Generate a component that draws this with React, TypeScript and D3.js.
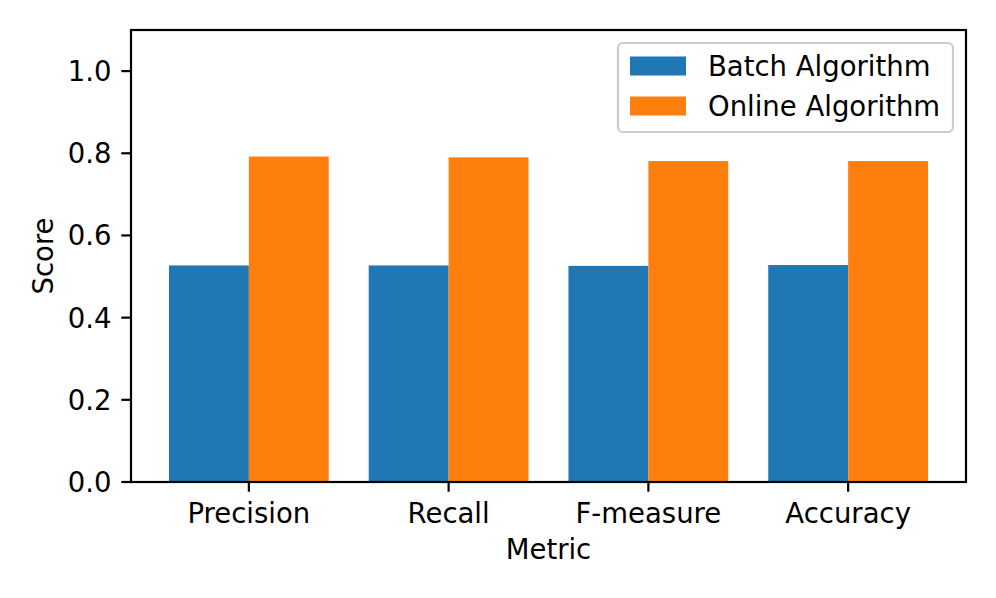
//@ts-nocheck
import { useEffect, useRef } from 'react';
import * as d3 from 'd3';

// data
const metrics = ['Precision', 'Recall', 'F-measure', 'Accuracy'];
const batchScores = [0.527, 0.527, 0.526, 0.528];
const onlineScores = [0.792, 0.790, 0.781, 0.781];
const seriesNames = ['Batch Algorithm', 'Online Algorithm'];
const yTicks = [0, 0.2, 0.4, 0.6, 0.8, 1.0];

const BarChart = () => {
    const svgRef = useRef();

    useEffect(() => {
        const svg = d3.select(svgRef.current);
        svg.selectAll('*').remove();

        const width = 996;
        const height = 598;
        const left = 131, right = 966, top = 30, bottom = 482;
        const font = 'DejaVu Sans, sans-serif';
        const fs = 27.5;
        const colors = ['#1f77b4', '#ff7f0e'];
        const barW = 0.4;

        svg.append('rect').attr('width', width).attr('height', height).attr('fill', '#fff');

        const x = d3.scaleLinear().domain([-0.59, 3.59]).range([left, right]);
        const y = d3.scaleLinear().domain([0, 1.1]).range([bottom, top]);

        const series = [batchScores, onlineScores];

        // bars
        series.forEach((vals, s) => {
            svg.append('g')
                .selectAll('rect')
                .data(vals)
                .enter()
                .append('rect')
                .attr('x', (d, i) => x(i + (s === 0 ? -barW : 0)))
                .attr('width', x(barW) - x(0))
                .attr('y', d => y(d))
                .attr('height', d => y(0) - y(d))
                .attr('fill', colors[s]);
        });

        // frame
        svg.append('rect')
            .attr('x', left).attr('y', top)
            .attr('width', right - left).attr('height', bottom - top)
            .attr('fill', 'none').attr('stroke', '#000').attr('stroke-width', 2.2);

        // y ticks
        const yAxis = svg.append('g');
        yTicks.forEach(t => {
            yAxis.append('line')
                .attr('x1', left).attr('x2', left - 9.7)
                .attr('y1', y(t)).attr('y2', y(t))
                .attr('stroke', '#000').attr('stroke-width', 2.2);
            yAxis.append('text')
                .attr('x', left - 19.4).attr('y', y(t))
                .attr('dy', '0.36em')
                .attr('text-anchor', 'end')
                .style('font-family', font).style('font-size', `${fs}px`)
                .text(t.toFixed(1));
        });

        // x ticks
        const xAxis = svg.append('g');
        metrics.forEach((m, i) => {
            xAxis.append('line')
                .attr('x1', x(i)).attr('x2', x(i))
                .attr('y1', bottom).attr('y2', bottom + 9.7)
                .attr('stroke', '#000').attr('stroke-width', 2.2);
            xAxis.append('text')
                .attr('x', x(i)).attr('y', 523)
                .attr('text-anchor', 'middle')
                .style('font-family', font).style('font-size', `${fs}px`)
                .text(m);
        });

        // axis labels
        svg.append('text')
            .attr('x', (left + right) / 2).attr('y', 559)
            .attr('text-anchor', 'middle')
            .style('font-family', font).style('font-size', `${fs}px`)
            .text('Metric');
        svg.append('text')
            .attr('transform', `translate(52.5, ${(top + bottom) / 2}) rotate(-90)`)
            .attr('text-anchor', 'middle')
            .style('font-family', font).style('font-size', `${fs}px`)
            .text('Score');

        // legend
        const legend = svg.append('g');
        legend.append('rect')
            .attr('x', 618).attr('y', 43)
            .attr('width', 335).attr('height', 89)
            .attr('rx', 5).attr('ry', 5)
            .attr('fill', '#fff').attr('fill-opacity', 0.8)
            .attr('stroke', '#cccccc').attr('stroke-width', 2.2);
        seriesNames.forEach((name, i) => {
            const cy = 66 + i * 40;
            legend.append('rect')
                .attr('x', 630).attr('y', cy - 9.5)
                .attr('width', 56).attr('height', 19)
                .attr('fill', colors[i]);
            legend.append('text')
                .attr('x', 708).attr('y', cy)
                .attr('dy', '0.36em')
                .style('font-family', font).style('font-size', `${fs}px`)
                .text(name);
        });
    }, []);

    return (
        <svg ref={svgRef} width={996} height={598} style={{ position: 'absolute', left: 0, top: 0 }}></svg>
    );
};

export default function App() {
    return <BarChart />;
}
